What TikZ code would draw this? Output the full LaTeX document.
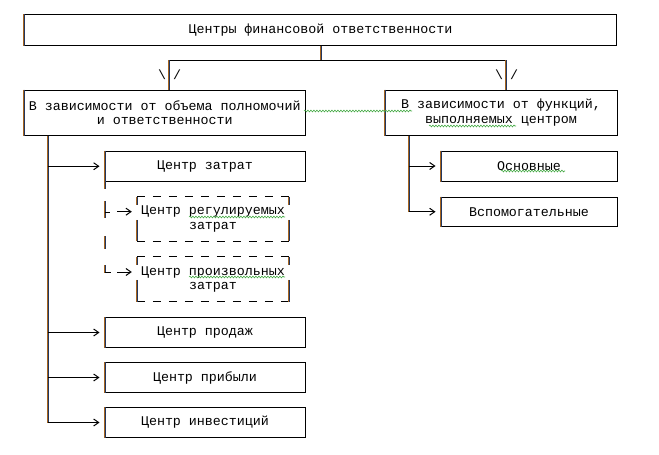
\documentclass[tikz,border=0pt]{standalone}
\usepackage{fontspec}
\setmainfont{Liberation Mono}
\usetikzlibrary{arrows.meta,decorations.pathmorphing,calc}
\definecolor{ctbrown}{RGB}{165,100,30}
\definecolor{ctblue}{RGB}{35,55,95}
\definecolor{spell}{RGB}{70,170,70}
\tikzset{
  box/.style={draw=black, line width=1pt, inner sep=0pt, align=center,
    font=\fontsize{13.33}{14.5}\selectfont},
  lbl/.style={inner sep=0pt, align=center, font=\fontsize{13.33}{14.5}\selectfont},
  conn/.style={line width=1pt, black},
  arr/.style={conn, -{Straight Barb[length=5pt,width=7pt]}, shorten >=5pt},
  wavy/.style={spell, line width=0.6pt, decorate,
    decoration={snake, amplitude=0.9pt, segment length=3pt}},
  dsh/.style={line width=1pt, black, dash pattern=on 8pt off 8pt},
}
\newcommand\ctv[2]{%
  \draw[ctbrown,line width=1pt,transform canvas={xshift=-0.5pt}] #1 -- #2;
  \draw[ctblue,line width=1pt,transform canvas={xshift=0.5pt}] #1 -- #2;}
\begin{document}
\begin{tikzpicture}[x=1pt,y=-1pt]
\useasboundingbox (0,0) rectangle (659,455);

% boxes
\node[box, minimum width=592pt, minimum height=30.5pt] (top) at (320.5,29.75)
  {Центры финансовой ответственности};
\node[box, minimum width=280.5pt, minimum height=45pt] (L) at (164.75,112.5)
  {В зависимости от объема полномочий\\и ответственности};
\node[box, minimum width=232pt, minimum height=45pt] (R) at (501,112.5)
  {В зависимости от функций,\\выполняемых центром};
\node[box, minimum width=200pt, minimum height=30.5pt] (c1) at (205,166.25) {Центр затрат};
\node[lbl, minimum width=152pt, minimum height=44pt] (d1) at (213,219)
  {Центр регулируемых\\затрат};
\node[lbl, minimum width=152pt, minimum height=44.5pt] (d2) at (213,279.25)
  {Центр произвольных\\затрат};
\node[box, minimum width=200pt, minimum height=30pt] (c2) at (205,332.5) {Центр продаж};
\node[box, minimum width=200pt, minimum height=30pt] (c3) at (205,377.5) {Центр прибыли};
\node[box, minimum width=200pt, minimum height=30pt] (c4) at (205,422.5) {Центр инвестиций};
\node[box, minimum width=176pt, minimum height=30pt] (r1) at (529,166) {Основные};
\node[box, minimum width=176pt, minimum height=29.5pt] (r2) at (529,211.75) {Вспомогательные};

% top connectors
\coordinate (jL) at (169,60);
\coordinate (jR) at (506,60);
\coordinate (jT) at (top.south |- jL);
\coordinate (eL) at (jL |- L.north);
\coordinate (eR) at (jR |- R.north);
\draw[conn] (jL) -- (jR);
\ctv{(top.south)}{(jT)}
\ctv{(jL)}{(eL)}
\ctv{(jR)}{(eR)}
\node[lbl] (bs1) at (162,75) {\textbackslash};
\node[lbl] (sl1) at (177,75) {/};
\node[lbl] (bs2) at (499,75) {\textbackslash};
\node[lbl] (sl2) at (514,75) {/};

% left main branch
\coordinate (lv0) at ([xshift=23.5pt]L.south west);
\coordinate (lv1) at (lv0 |- c4.west);
\ctv{(lv0)}{(lv1)}
\draw[arr] (lv0 |- c1.west) -- (c1.west);
\draw[arr] (lv0 |- c2.west) -- (c2.west);
\draw[arr] (lv0 |- c3.west) -- (c3.west);
\draw[arr] (lv1) -- (c4.west);

% dashed sub-branch
\coordinate (dv) at (c1.south west);
\ctv{(dv)}{($(dv)+(0,7)$)}
\ctv{($(dv)+(0,19)$)}{($(dv)+(0,36)$)}
\ctv{($(dv)+(0,54)$)}{($(dv)+(0,67)$)}
\ctv{($(dv)+(0,83)$)}{($(dv)+(0,91)$)}
\draw[conn] ($(dv)+(0,30.2)$) -- ($(dv)+(5,30.2)$);
\draw[conn] ($(dv)+(0,90.5)$) -- ($(dv)+(6,90.5)$);
\coordinate (t1) at (117,211.7);
\coordinate (t2) at (117,272);
\draw[arr] (t1) -- (t1 -| d1.west);
\draw[arr] (t2) -- (t2 -| d2.west);

% dashed boxes
\foreach \n in {d1,d2}{
  \draw[dsh] (\n.north west) -- (\n.north east);
  \draw[dsh] (\n.south west) -- (\n.south east);
  \ctv{(\n.north west)}{($(\n.north west)+(0,8)$)}
  \ctv{($(\n.north west)+(0,23)$)}{(\n.south west)}
  \ctv{(\n.north east)}{($(\n.north east)+(0,8)$)}
  \ctv{($(\n.north east)+(0,23)$)}{(\n.south east)}
}

% right branch
\coordinate (rv0) at ([xshift=24pt]R.south west);
\coordinate (rv1) at (rv0 |- r2.west);
\ctv{(rv0)}{(rv1)}
\draw[arr] (rv0 |- r1.west) -- (r1.west);
\draw[arr] (rv1) -- (r2.west);

% box left edges (subpixel look)
\foreach \n in {top,L,R,c1,c2,c3,c4,r1,r2}{
  \ctv{(\n.north west)}{(\n.south west)}
}

% spell-check underlines
\draw[wavy] (304,111) -- (412,111);
\draw[wavy] (429,126) -- (516,126);
\draw[wavy] (501,171) -- (565,171);
\draw[wavy] (189,217) -- (285,217);
\draw[wavy] (189,277) -- (285,277);
\end{tikzpicture}
\end{document}
